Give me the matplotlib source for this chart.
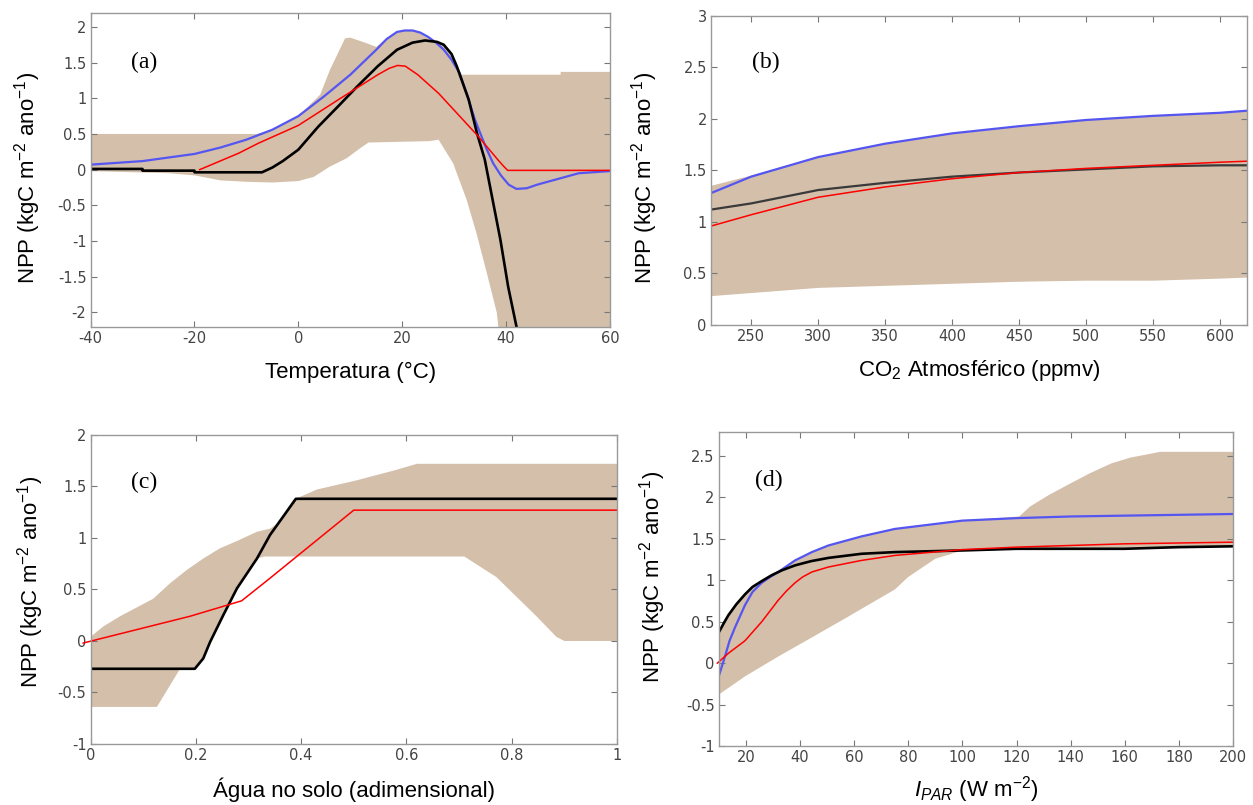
import numpy as np
import matplotlib
matplotlib.use("Agg")
import matplotlib.pyplot as plt
from matplotlib.ticker import FuncFormatter, MultipleLocator

plt.rcParams["font.family"] = ["Liberation Sans", "DejaVu Sans"]
plt.rcParams["mathtext.fontset"] = "custom"
plt.rcParams["mathtext.rm"] = "Liberation Sans"
plt.rcParams["mathtext.it"] = "Liberation Sans:italic"
plt.rcParams["axes.unicode_minus"] = False

# (a) temperature
a_fill_up_x = [-40, -8, -5, 0, 4.2, 6.1, 9, 10, 13.2, 15, 17, 19, 20.5, 22, 23.5, 25, 26.5, 28, 29.5, 31.5, 50.5, 50.5, 60]
a_fill_up_y = [0.5, 0.5, 0.56, 0.75, 1.05, 1.40, 1.84, 1.85, 1.77, 1.72, 1.84, 1.93, 1.95, 1.95, 1.92, 1.86, 1.80, 1.76, 1.60, 1.33, 1.33, 1.37, 1.37]
a_fill_lo_x = [-40, -25, -20, -15, -10, -5, 0, 3, 6, 9.3, 11.9, 13.5, 25.3, 27, 29.8, 32.4, 34.3, 36.3, 38.2, 39, 60]
a_fill_lo_y = [-0.02, -0.05, -0.08, -0.15, -0.17, -0.18, -0.16, -0.1, 0.04, 0.16, 0.30, 0.38, 0.40, 0.42, 0.09, -0.42, -0.89, -1.45, -2.0, -2.5, -2.5]
a_blue_x = [-40, -30, -20, -15, -10, -5, 0, 5, 10, 15, 17, 19, 20.5, 22, 23.5, 25, 26.5, 28, 29.5, 31, 32.5, 34, 36, 37.5, 39, 40.5, 42, 44, 46, 50, 54, 60]
a_blue_y = [0.07, 0.12, 0.22, 0.31, 0.42, 0.56, 0.75, 1.03, 1.33, 1.68, 1.83, 1.93, 1.95, 1.95, 1.92, 1.86, 1.78, 1.68, 1.54, 1.36, 1.05, 0.7, 0.33, 0.09, -0.08, -0.21, -0.27, -0.26, -0.21, -0.13, -0.05, -0.02]
a_black_x = [-40, -30, -30, -20, -20, -7, -5, -3, 0, 3.8, 7.7, 11.4, 15.3, 19, 22, 24.4, 26.7, 28, 29.5, 30.5, 32.8, 34.4, 35.9, 37.4, 38.9, 40.4, 42]
a_black_y = [0.01, 0.01, -0.014, -0.014, -0.037, -0.037, 0.03, 0.12, 0.28, 0.6, 0.89, 1.17, 1.45, 1.68, 1.78, 1.81, 1.79, 1.75, 1.62, 1.45, 0.98, 0.51, 0.14, -0.42, -0.98, -1.64, -2.2]
a_red_x = [-19, -11.5, -7.7, 0, 7.7, 15.3, 17.5, 19.1, 20.6, 23, 27, 30.8, 34.6, 38.4, 39.5, 40.3, 42, 60]
a_red_y = [0, 0.23, 0.37, 0.62, 0.98, 1.33, 1.42, 1.46, 1.45, 1.33, 1.07, 0.77, 0.47, 0.14, 0.05, -0.01, -0.01, -0.01]

# (b) CO2
b_x = [220, 250, 300, 350, 400, 450, 500, 550, 600, 620]
b_blue = [1.28, 1.44, 1.63, 1.76, 1.86, 1.93, 1.99, 2.03, 2.06, 2.08]
b_black = [1.12, 1.18, 1.31, 1.38, 1.44, 1.48, 1.51, 1.54, 1.55, 1.55]
b_red = [0.96, 1.07, 1.24, 1.34, 1.42, 1.48, 1.52, 1.55, 1.58, 1.59]
b_fill_up = [1.35, 1.45, 1.63, 1.76, 1.86, 1.93, 1.99, 2.03, 2.06, 2.07]
b_fill_lo = [0.28, 0.31, 0.36, 0.38, 0.40, 0.42, 0.43, 0.43, 0.45, 0.46]

# (c) soil water
c_fill_up_x = [0, 0.024, 0.056, 0.119, 0.151, 0.183, 0.214, 0.246, 0.278, 0.316, 0.341, 0.355, 0.385, 0.43, 0.506, 0.58, 0.62, 1]
c_fill_up_y = [0.04, 0.14, 0.24, 0.41, 0.56, 0.69, 0.80, 0.90, 0.97, 1.06, 1.09, 1.14, 1.37, 1.47, 1.56, 1.66, 1.72, 1.72]
c_fill_lo_x = [0, 0.126, 0.151, 0.17, 0.198, 0.214, 0.227, 0.252, 0.278, 0.316, 0.33, 0.71, 0.771, 0.809, 0.847, 0.885, 0.9, 1]
c_fill_lo_y = [-0.64, -0.64, -0.43, -0.27, -0.27, -0.17, -0.01, 0.25, 0.51, 0.80, 0.82, 0.82, 0.62, 0.43, 0.24, 0.04, 0, 0]
c_black_x = [0, 0.198, 0.214, 0.227, 0.252, 0.278, 0.316, 0.341, 0.39, 1]
c_black_y = [-0.27, -0.27, -0.17, -0.01, 0.25, 0.51, 0.80, 1.03, 1.38, 1.38]
c_red_x = [-0.014, 0.189, 0.287, 0.341, 0.5, 1]
c_red_y = [-0.02, 0.24, 0.39, 0.61, 1.27, 1.27]

# (d) PAR
d_black_x = [10, 12, 13.6, 16.5, 19.7, 22.5, 25.9, 29.5, 33.3, 38.2, 44, 50.5, 62.8, 75.1, 100, 120, 160, 180, 200]
d_black_y = [0.37, 0.49, 0.58, 0.71, 0.83, 0.92, 0.99, 1.06, 1.12, 1.18, 1.23, 1.27, 1.32, 1.34, 1.36, 1.38, 1.38, 1.40, 1.41]
d_blue_x = [10, 12.3, 14, 16, 19.7, 22.5, 25.9, 29, 32, 38.2, 44.4, 50.5, 62.8, 75.1, 100, 120, 140, 160, 180, 200]
d_blue_y = [-0.16, 0.08, 0.27, 0.43, 0.70, 0.86, 0.97, 1.04, 1.10, 1.24, 1.34, 1.42, 1.53, 1.62, 1.72, 1.75, 1.77, 1.78, 1.79, 1.80]
d_red_x = [9.5, 13.6, 19.7, 25.9, 32, 35, 38.2, 41, 44.4, 50.5, 62.8, 75.1, 100, 120, 160, 200]
d_red_y = [0, 0.12, 0.27, 0.50, 0.76, 0.87, 0.97, 1.04, 1.10, 1.16, 1.24, 1.30, 1.37, 1.40, 1.44, 1.46]
d_fill_up_x = [10, 13.6, 19.7, 25.9, 33.3, 38.2, 44.4, 50.5, 62.8, 75.1, 100, 121, 125, 132, 140, 147, 155, 162, 170, 173, 200]
d_fill_up_y = [0.37, 0.58, 0.83, 0.99, 1.12, 1.24, 1.34, 1.42, 1.53, 1.62, 1.72, 1.77, 1.89, 2.03, 2.17, 2.29, 2.41, 2.48, 2.53, 2.55, 2.55]
d_fill_lo_x = [10, 19.7, 32, 44.4, 56.7, 75.1, 80, 90, 100, 120, 160, 180, 200]
d_fill_lo_y = [-0.38, -0.16, 0.08, 0.31, 0.54, 0.89, 1.04, 1.26, 1.36, 1.38, 1.38, 1.40, 1.41]

tan = "#d3bfaa"
blue = "#5555f2"
ylab = "NPP (kgC m$^{-2}$ ano$^{-1}$)"


def polygon(ax, xu, yu, xl, yl):
    ax.fill(np.r_[xu, xl[::-1]], np.r_[yu, yl[::-1]], color=tan, lw=0)


def style(ax, xlim, ylim, xstep, ystep, xlabel, tag, tagpos, xlab_y, ylab_pos):
    ax.set_xlim(*xlim)
    ax.set_ylim(*ylim)
    ax.xaxis.set_major_locator(MultipleLocator(xstep))
    ax.yaxis.set_major_locator(MultipleLocator(ystep))
    fmt = FuncFormatter(lambda v, p: "%g" % round(v, 3))
    ax.xaxis.set_major_formatter(fmt)
    ax.yaxis.set_major_formatter(fmt)
    ax.tick_params(direction="in", top=True, right=True, length=4, width=0.8,
                   color="#777", labelcolor="#444", labelsize=10.5, pad=3)
    for lbl in ax.get_xticklabels() + ax.get_yticklabels():
        lbl.set_family("DejaVu Sans")
    for s in ax.spines.values():
        s.set_color("#999")
        s.set_linewidth(1)
    ax.set_xlabel(xlabel, fontsize=16)
    ax.xaxis.set_label_coords(0.5, xlab_y)
    ax.xaxis.label.set_va("center")
    ax.set_ylabel(ylab, fontsize=16)
    ax.yaxis.set_label_coords(*ylab_pos)
    ax.yaxis.label.set_va("center")
    ax.text(tagpos[0], tagpos[1], tag, transform=ax.transAxes, fontsize=17,
            family="Liberation Serif", va="center", ha="left")


fig = plt.figure(figsize=(12.53, 8.05), dpi=100)

ax = fig.add_axes([0.0723, 0.5942, 0.4145, 0.3901])
polygon(ax, a_fill_up_x, a_fill_up_y, a_fill_lo_x, a_fill_lo_y)
ax.plot(a_blue_x, a_blue_y, color=blue, lw=1.6)
ax.plot(a_black_x, a_black_y, color="black", lw=1.9)
ax.plot(a_red_x, a_red_y, color="red", lw=1.1)
style(ax, (-40, 60), (-2.2, 2.2), 20, 0.5, "Temperatura (°C)", "(a)", (0.078, 0.84), -0.147, (-0.122, 0.475))

ax = fig.add_axes([0.5674, 0.5963, 0.4278, 0.3839])
polygon(ax, b_x, b_fill_up, b_x, b_fill_lo)
ax.plot(b_x, b_blue, color=blue, lw=1.6)
ax.plot(b_x, b_black, color="#3a3a3a", lw=1.6)
ax.plot(b_x, b_red, color="red", lw=1.1)
style(ax, (220, 620), (0, 3), 50, 0.5, "CO$_2$ Atmosférico (ppmv)", "(b)", (0.076, 0.848), -0.146, (-0.124, 0.476))

ax = fig.add_axes([0.0723, 0.0758, 0.4201, 0.3839])
polygon(ax, c_fill_up_x, c_fill_up_y, c_fill_lo_x, c_fill_lo_y)
ax.plot(c_black_x, c_black_y, color="black", lw=1.9)
ax.plot(c_red_x, c_red_y, color="red", lw=1.1, clip_on=False)
style(ax, (0, 1), (-1, 2), 0.2, 0.5, "Água no solo (adimensional)", "(c)", (0.077, 0.845), -0.149, (-0.115, 0.524))

ax = fig.add_axes([0.5736, 0.0733, 0.4105, 0.3901])
polygon(ax, d_fill_up_x, d_fill_up_y, d_fill_lo_x, d_fill_lo_y)
ax.plot(d_blue_x, d_blue_y, color=blue, lw=1.6)
ax.plot(d_black_x, d_black_y, color="black", lw=1.9)
ax.plot(d_red_x, d_red_y, color="red", lw=1.1, clip_on=False)
style(ax, (10, 200), (-1, 2.79), 20, 0.5, "$I_{PAR}$ (W m$^{-2}$)", "(d)", (0.07, 0.847), -0.14, (-0.128, 0.538))
ax.set_xticks(np.arange(20, 201, 20))

fig.savefig("out.png", dpi=100)
